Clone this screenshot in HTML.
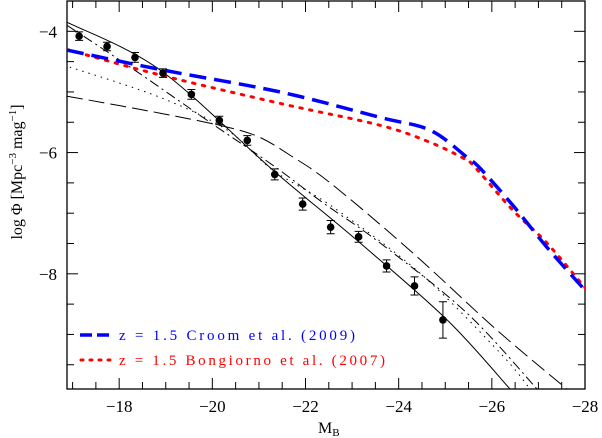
<!DOCTYPE html>
<html><head><meta charset="utf-8"><style>
html,body{margin:0;padding:0;background:#fff;}
svg{display:block;font-family:"Liberation Serif",serif;}
</style></head><body>
<svg id="chart" width="602" height="438" viewBox="0 0 602 438" xmlns="http://www.w3.org/2000/svg">
<g id="plot"></g>
</svg>
<script>
const dataMag=[-17.14,-17.74,-18.34,-18.94,-19.55,-20.15,-20.75,-21.34,-21.94,-22.54,-23.14,-23.74,-24.34,-24.95];
const dataPhi=[-4.08,-4.25,-4.43,-4.69,-5.04,-5.47,-5.80,-6.36,-6.85,-7.23,-7.39,-7.87,-8.20,-8.76];
const dataErr=[0.07,0.07,0.08,0.07,0.08,0.07,0.08,0.09,0.10,0.11,0.09,0.10,0.15,0.30];
const croomMag=[-16.88,-18.88,-21.45,-23.60,-24.67,-25.47,-25.75,-26.45,-27.18,-28.0];
const croomPhi=[-4.31,-4.63,-5.00,-5.42,-5.63,-6.08,-6.26,-6.87,-7.56,-8.27];
const bongMag=[-16.88,-18.88,-21.52,-23.60,-24.67,-25.38,-25.60,-26.45,-27.18,-28.0];
const bongPhi=[-4.30,-4.72,-5.20,-5.55,-5.83,-6.09,-6.21,-6.95,-7.49,-8.23];
const solidMag=[-16.88,-18.88,-21.30,-23.17,-25.04,-26.39];
const solidPhi=[-3.85,-4.64,-6.29,-7.49,-8.76,-9.90];
const dotdashMag=[-16.88,-18.39,-19.89,-21.30,-22.38,-23.60,-25.47,-26.97];
const dotdashPhi=[-3.90,-4.67,-5.47,-6.21,-6.83,-7.49,-8.65,-9.90];
const dottedMag=[-16.94,-18.88,-20.32,-21.30,-22.59,-24.46,-26.17,-26.82];
const dottedPhi=[-4.59,-5.09,-5.63,-6.29,-6.90,-7.99,-9.30,-9.90];
const dashMag=[-16.88,-18.88,-20.32,-21.02,-21.66,-22.53,-24.31,-26.11,-27.61];
const dashPhi=[-5.07,-5.35,-5.58,-5.75,-6.04,-6.50,-7.66,-8.93,-9.90];
const xTicks=[-18,-20,-22,-24,-26,-28];
const yTicks=[-4,-6,-8];

const L=67,R=585,T=1,B=389;
const xMin=-16.88,xMax=-28,yMin=-9.9,yMax=-3.5;
const X=v=>L+(v-xMin)/(xMax-xMin)*(R-L);
const Y=v=>B-(v-yMin)/(yMax-yMin)*(B-T);
const NS="http://www.w3.org/2000/svg";
const g=document.getElementById('plot');
function mk(tag,attrs,parent){const e=document.createElementNS(NS,tag);for(const k in attrs)e.setAttribute(k,attrs[k]);(parent||g).appendChild(e);return e;}

const frame=mk('rect',{x:L,y:T,width:R-L,height:B-T,fill:'none',stroke:'#000','stroke-width':1.3});



for(let v=-17;v>=-28;v-=0.5){
  const major=Math.abs(v%2)<1e-9;const len=major?11:7;const x=X(v);
  if(x<L||x>R)continue;
  const t1=mk('line',{x1:x,y1:B,x2:x,y2:B-len,stroke:'#000','stroke-width':1});
  
  
  const t2=mk('line',{x1:x,y1:T,x2:x,y2:T+len,stroke:'#000','stroke-width':1});
  
  
}
xTicks.forEach(v=>{
  const t=mk('text',{x:X(v),y:412,'text-anchor':'middle','font-size':17});
  t.textContent='\u2212'+Math.abs(v);
  
  
});
for(let v=-9.5;v<=-3.5;v+=0.5){
  const major=Math.abs(v%2)<1e-9;const len=major?11:7;const y=Y(v);
  const t1=mk('line',{x1:L,y1:y,x2:L+len,y2:y,stroke:'#000','stroke-width':1});
  
  
  const t2=mk('line',{x1:R,y1:y,x2:R-len,y2:y,stroke:'#000','stroke-width':1});
  
  
}
yTicks.forEach(v=>{
  const t=mk('text',{x:57,y:Y(v)+6,'text-anchor':'end','font-size':17});
  t.textContent='\u2212'+Math.abs(v);
  
  
});
const xt=mk('text',{x:318,y:433,'font-size':16});
xt.innerHTML='M<tspan font-size="11" dy="3">B</tspan>';


const yt=mk('text',{x:0,y:0,'text-anchor':'middle','font-size':16,transform:'translate(22,172) rotate(-90)'});
yt.innerHTML='log \u03A6  [Mpc<tspan font-size="11" dy="-6">\u22123</tspan><tspan dy="6">  mag</tspan><tspan font-size="11" dy="-6">\u22121</tspan><tspan dy="6">]</tspan>';



const defs=mk('defs',{});
const cp=mk('clipPath',{id:'clip'},defs);
mk('rect',{x:L,y:T,width:R-L,height:B-T},cp);
const cg=mk('g',{'clip-path':'url(#clip)'});

function curve(mags,phis,attrs,name){
  const p=mags.map((m,i)=>[X(m),Y(phis[i])]);
  let d='M'+p[0][0].toFixed(1)+' '+p[0][1].toFixed(1);
  for(let i=0;i<p.length-1;i++){
    const p0=p[i-1]||p[i],p1=p[i],p2=p[i+1],p3=p[i+2]||p2;
    const c1=[p1[0]+(p2[0]-p0[0])/6,p1[1]+(p2[1]-p0[1])/6];
    const c2=[p2[0]-(p3[0]-p1[0])/6,p2[1]-(p3[1]-p1[1])/6];
    d+=` C${c1[0].toFixed(1)} ${c1[1].toFixed(1)} ${c2[0].toFixed(1)} ${c2[1].toFixed(1)} ${p2[0].toFixed(1)} ${p2[1].toFixed(1)}`;
  }
  const e=mk('path',Object.assign({d:d,fill:'none','stroke-linejoin':'round'},attrs),cg);
  
  
}
curve(solidMag,solidPhi,{stroke:'#000','stroke-width':1},'model-solid-line');
curve(dotdashMag,dotdashPhi,{stroke:'#000','stroke-width':1,'stroke-dasharray':'10 4 2 4'},'model-dot-dash-line');
curve(dottedMag,dottedPhi,{stroke:'#000','stroke-width':1,'stroke-dasharray':'1.5 5'},'model-dotted-line');
curve(dashMag,dashPhi,{stroke:'#000','stroke-width':1,'stroke-dasharray':'16 6'},'model-long-dash-line');
curve(bongMag,bongPhi,{stroke:'#f00','stroke-width':3,'stroke-dasharray':'2.5 7.5','stroke-linecap':'round'},'bongiorno-curve');
curve(croomMag,croomPhi,{stroke:'#00f','stroke-width':3.5,'stroke-dasharray':'17 8'},'croom-curve');

dataMag.forEach((m,i)=>{
  const x=X(m),y=Y(dataPhi[i]),y1=Y(dataPhi[i]+dataErr[i]),y2=Y(dataPhi[i]-dataErr[i]);
  const e=mk('path',{d:`M${x} ${y1}V${y2}M${x-4} ${y1}H${x+4}M${x-4} ${y2}H${x+4}`,stroke:'#000','stroke-width':1,fill:'none'},cg);
  
  
  const c=mk('circle',{cx:x,cy:y,r:3.8,fill:'#000'},cg);
  
  
});

const l1=mk('line',{x1:80,y1:335,x2:110,y2:335,stroke:'#00f','stroke-width':3.5,'stroke-dasharray':'12 5'});


const t1=mk('text',{x:119,y:340,'font-size':15,fill:'#00f',textLength:236,lengthAdjust:'spacing'});
t1.textContent='z = 1.5 Croom et al. (2009)';


const l2=mk('line',{x1:81,y1:360,x2:110,y2:360,stroke:'#f00','stroke-width':3,'stroke-dasharray':'2 7','stroke-linecap':'round'});


const t2=mk('text',{x:119,y:365,'font-size':15,fill:'#f00',textLength:266,lengthAdjust:'spacing'});
t2.textContent='z = 1.5 Bongiorno et al. (2007)';


</script>
</body></html>
